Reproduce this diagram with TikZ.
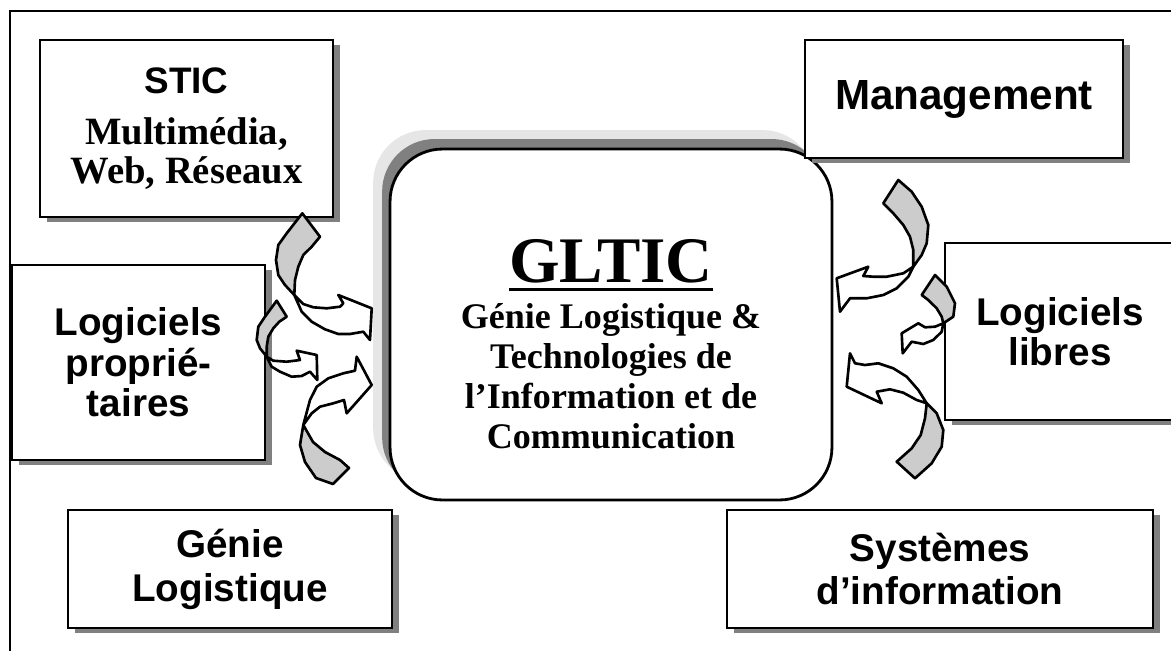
\documentclass[tikz,border=0pt]{standalone}
\usepackage{fontspec}
\setmainfont{Liberation Serif}
\setsansfont{Liberation Sans}
\usetikzlibrary{shadows}
\definecolor{shadowgray}{HTML}{808080}
\definecolor{lightshadow}{HTML}{E6E6E6}
\definecolor{tailgray}{HTML}{CCCCCC}
\tikzset{
  sidebox/.style={draw, line width=1.6pt, fill=white, align=center,
    font=\sffamily\bfseries\fontsize{22}{23}\selectfont,
    drop shadow={shadow xshift=4pt, shadow yshift=-3pt, fill=shadowgray, opacity=1}},
  tailpart/.style={draw, line width=1.5pt, fill=tailgray, line join=round},
  headpart/.style={draw, line width=1.5pt, fill=white, line join=round},
}
\begin{document}
\begin{tikzpicture}[x=0.02cm, y=-0.02cm]
\useasboundingbox (0,0) rectangle (1171,650);
\clip (0,0) rectangle (1171,650);
\draw[line width=1.6pt] (10,700) -- (10,11) -- (1200,11);

% centre
\node[draw, line width=1.6pt, fill=white, rounded corners=1.05cm,
  minimum width=8.84cm, minimum height=7.02cm,
  drop shadow={shadow xshift=-9.6pt, shadow yshift=10.8pt, fill=lightshadow, opacity=1},
  drop shadow={shadow xshift=-4.5pt, shadow yshift=5.7pt, fill=shadowgray, opacity=1}]
  (gltic) at (611,324.5) {};
\node[inner sep=0, anchor=base, font=\bfseries\fontsize{37}{40}\selectfont] (title) at (611,282) {GLTIC};
\draw[line width=1.7pt] ([yshift=-4.5pt]title.base west) -- ([yshift=-4.5pt]title.base east);
\node[align=center, font=\bfseries\fontsize{20.5}{22.7}\selectfont] (subtitle) at (611,376)
  {Génie Logistique \&\\ Technologies de\\ l’Information et de\\ Communication};

% boxes
\node[sidebox, minimum width=5.86cm, minimum height=3.54cm,
  font=\rmfamily\bfseries\fontsize{22}{22}\selectfont] (stic) at (186.5,128.5)
  {{\sffamily\fontsize{21}{25}\selectfont STIC}\\[7pt] Multimédia,\\ Web, Réseaux};
\node[sidebox, minimum width=6.36cm, minimum height=2.36cm,
  font=\sffamily\bfseries\fontsize{24}{25}\selectfont] (mgmt) at (964,99) {Management};
\node[sidebox, minimum width=5.06cm, minimum height=3.9cm] (proprio) at (138.5,362.5) {Logiciels\\ proprié-\\ taires};
\node[sidebox, minimum width=4.6cm, minimum height=3.54cm] (libres) at (1060,331.5) {Logiciels\\ libres};
\node[sidebox, minimum width=6.48cm, minimum height=2.36cm,
  font=\sffamily\bfseries\fontsize{22}{25}\selectfont] (genielog) at (230,569) {Génie\\ Logistique};
\node[sidebox, minimum width=8.52cm, minimum height=2.36cm,
  font=\sffamily\bfseries\fontsize{22}{25}\selectfont] (sysinfo) at (940,569) {Systèmes\\ d’information};

% curved arrows, left
\draw[tailpart] (302.3,213.3) -- (320,236.7) -- (311.7,246.7) -- (303.3,255) -- (298.3,266.7) -- (295,280) -- (294.3,295) -- (285,285) -- (278.3,275) -- (276,260) -- (278.3,245) -- (286.7,233.3) -- cycle;
\draw[headpart] (294.3,295) -- (303.3,304) -- (313.3,307.3) -- (326.7,308.3) -- (340,306.7) -- (343.3,303.3) -- (338.3,295) -- (371.7,308.3) -- (370,340) -- (363.3,331.7) -- (350,334) -- (338.3,334) -- (325,329.3) -- (311.7,321.7) -- (301.7,311.7) -- cycle;

\draw[tailpart] (276.7,300.7) -- (286.7,316.7) -- (279.3,321.7) -- (273.3,328.3) -- (268.3,336.7) -- (266.7,346.7) -- (266.7,356.7) -- (260,348.3) -- (256.7,340) -- (258.3,326.7) -- (265,316.7) -- cycle;
\draw[headpart] (266.7,356.7) -- (273.3,360.7) -- (286.7,361.7) -- (300,360) -- (296.7,350.7) -- (316.7,355) -- (317.3,380) -- (310,371.7) -- (301.7,376) -- (291.7,376.7) -- (280,371.7) -- (271.7,366.7) -- cycle;

\draw[tailpart] (303.3,425) -- (313,442) -- (325,452) -- (340,460) -- (349,468) -- (333,484) -- (316,478) -- (305,462) -- (300,445) -- cycle;
\draw[headpart] (303.3,425) -- (310,400) -- (316.7,386.7) -- (328.3,378.3) -- (343.3,373.3) -- (355,370.7) -- (356.7,356.7) -- (371.7,385) -- (346.7,413.3) -- (344,400) -- (333.3,403.3) -- (320,406.7) -- (311.7,413.3) -- cycle;

% curved arrows, right
\draw[tailpart] (898.3,180) -- (911.7,191.7) -- (921.7,206.7) -- (928.3,225) -- (926.7,243.3) -- (921.7,255) -- (913.3,266.7) -- (913.3,250) -- (910,236.7) -- (903.3,225) -- (893.3,213.3) -- (883.3,203.3) -- cycle;
\draw[headpart] (913.3,266.7) -- (903.3,273.3) -- (886.7,276.7) -- (873.3,276.7) -- (863.3,276) -- (868.3,266.7) -- (836.7,278.3) -- (840,311.7) -- (850,298.3) -- (866.7,298.3) -- (883.3,295) -- (896.7,288.3) -- (908.3,276.7) -- cycle;

\draw[tailpart] (935,275) -- (946.7,286.7) -- (955,303.3) -- (953.3,316.7) -- (943.3,323.3) -- (941.7,316.7) -- (936.7,308.3) -- (928.3,300) -- (921.7,295) -- cycle;
\draw[headpart] (943.3,323.3) -- (935,326.7) -- (925,327.3) -- (918.3,323.3) -- (901.7,333.3) -- (902.7,353.3) -- (911.7,341.7) -- (923.3,344) -- (933.3,340) -- (941.7,331.7) -- cycle;

\draw[tailpart] (926.7,403.3) -- (936.7,413.3) -- (943.3,430) -- (941.7,446.7) -- (931.7,463.3) -- (915,478.3) -- (896.7,461.7) -- (911.7,448.3) -- (920.7,435) -- (925,418.3) -- cycle;
\draw[headpart] (926.7,403.3) -- (918.3,390) -- (906.7,376.7) -- (893.3,368.3) -- (878.3,363.3) -- (865,365) -- (855,363.3) -- (850,353.3) -- (846.7,386.7) -- (881.7,403.3) -- (876.7,391.7) -- (890,389.3) -- (903.3,392.7) -- (916.7,400) -- cycle;
\end{tikzpicture}
\end{document}
